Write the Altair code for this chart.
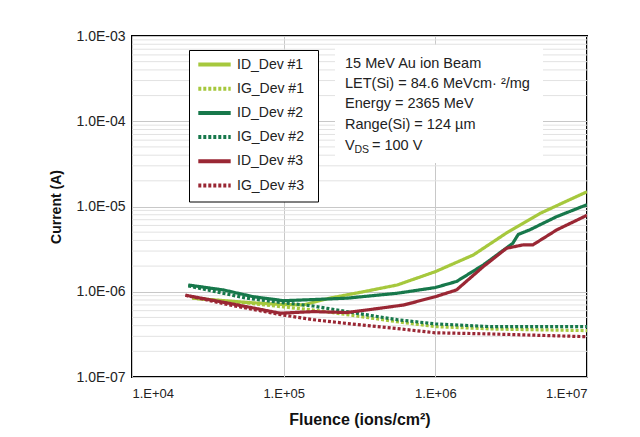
import altair as alt
import pandas as pd

# ---- data ----
series_names = ["ID_Dev #1", "IG_Dev #1", "ID_Dev #2", "IG_Dev #2", "ID_Dev #3", "IG_Dev #3"]
series_colors = ["#a6c83d", "#a6c83d", "#17784b", "#17784b", "#9a2734", "#9a2734"]
series_dashes = [[1, 0], [3, 2], [1, 0], [3, 2], [1, 0], [3, 2]]

id1_fluence = [2.5e4, 5.7e4, 9.5e4, 1.35e5, 2.0e5, 3.35e5, 5.6e5, 1.0e6, 1.78e6, 2.95e6, 4.9e6, 1.0e7]
id1_current = [8.4e-7, 7.5e-7, 7.1e-7, 7.0e-7, 8.4e-7, 1.0e-6, 1.2e-6, 1.72e-6, 2.7e-6, 4.9e-6, 8.3e-6, 1.49e-5]

ig1_fluence = [2.5e4, 5.7e4, 9.5e4, 1.57e5, 2.6e5, 5.6e5, 1.0e6, 2.5e6, 1.0e7]
ig1_current = [8.4e-7, 7.4e-7, 6.7e-7, 6.1e-7, 5.4e-7, 4.45e-7, 3.9e-7, 3.65e-7, 3.5e-7]

id2_fluence = [2.35e4, 4.0e4, 6.3e4, 1.0e5, 1.57e5, 2.6e5, 5.6e5, 1.0e6, 1.38e6, 2.07e6, 3.24e6, 3.52e6, 4.17e6, 6.3e6, 1.0e7]
id2_current = [1.2e-6, 1.05e-6, 8.75e-7, 7.85e-7, 8.1e-7, 8.4e-7, 9.6e-7, 1.12e-6, 1.32e-6, 2.06e-6, 3.7e-6, 4.7e-6, 5.3e-6, 7.6e-6, 1.05e-5]

ig2_fluence = [2.35e4, 5.7e4, 9.5e4, 1.57e5, 2.6e5, 5.6e5, 1.0e6, 2.3e6, 1.0e7]
ig2_current = [1.17e-6, 8.4e-7, 7.5e-7, 6.8e-7, 5.85e-7, 4.7e-7, 4.2e-7, 3.9e-7, 3.9e-7]

id3_fluence = [2.25e4, 4.4e4, 9.5e4, 1.57e5, 2.6e5, 4.3e5, 6.2e5, 1.0e6, 1.38e6, 2.07e6, 2.95e6, 3.8e6, 4.4e6, 6.3e6, 1.0e7]
id3_current = [9.1e-7, 7.3e-7, 5.6e-7, 5.85e-7, 5.7e-7, 6.4e-7, 7.0e-7, 8.75e-7, 1.05e-6, 1.97e-6, 3.24e-6, 3.55e-6, 3.55e-6, 5.3e-6, 7.9e-6]

ig3_fluence = [2.25e4, 4.4e4, 9.5e4, 1.57e5, 2.6e5, 5.6e5, 1.0e6, 2.3e6, 1.0e7]
ig3_current = [9.1e-7, 7.0e-7, 5.4e-7, 4.7e-7, 4.25e-7, 3.7e-7, 3.3e-7, 3.2e-7, 2.97e-7]

x_ticks = [1e4, 1e5, 1e6, 1e7]
y_ticks = [1e-7, 1e-6, 1e-5, 1e-4, 1e-3]
y_minor = [k * 10.0 ** e for e in range(-7, -3) for k in range(2, 10)]

annotation_lines = [
    "15 MeV Au ion Beam",
    "LET(Si) = 84.6 MeVcm· ²/mg",
    "Energy = 2365 MeV",
    "Range(Si) = 124 µm",
]
vds_parts = ["V", "DS", "= 100 V"]

# ---- build table ----
all_series = [
    (series_names[0], id1_fluence, id1_current),
    (series_names[1], ig1_fluence, ig1_current),
    (series_names[2], id2_fluence, id2_current),
    (series_names[3], ig2_fluence, ig2_current),
    (series_names[4], id3_fluence, id3_current),
    (series_names[5], ig3_fluence, ig3_current),
]
rows = []
for name, xs, ys in all_series:
    for xv, yv in zip(xs, ys):
        rows.append({"series": name, "fluence": xv, "current": yv})
df = pd.DataFrame(rows)

FONT = "Liberation Sans"
xscale = alt.Scale(type="log", domain=[1e4, 1e7])
yscale = alt.Scale(type="log", domain=[1e-7, 1e-3])

legend = alt.Legend(orient="none", legendX=64, legendY=20.5)

minor_grid = alt.Chart(pd.DataFrame({"v": y_minor})).mark_rule(
    color="#e2e2e2", strokeWidth=1
).encode(y=alt.Y("v:Q", scale=yscale))

one = pd.DataFrame({"a": [0]})

ann_box = alt.Chart(one).mark_rect(color="white").encode(
    x=alt.value(203), x2=alt.value(411), y=alt.value(9), y2=alt.value(127)
)

legend_box = alt.Chart(one).mark_rect(fill="white", stroke="black", strokeWidth=1).encode(
    x=alt.value(57.5), x2=alt.value(186.5), y=alt.value(14.5), y2=alt.value(166)
)

lines = alt.Chart(df).mark_line(strokeWidth=3.2, clip=True).encode(
    x=alt.X(
        "fluence:Q",
        scale=xscale,
        axis=alt.Axis(
            values=x_ticks,
            labelExpr="'1.E+0' + round(log(datum.value)/LN10)",
            title="Fluence (ions/cm²)",
            grid=True,
            gridColor="#c8c8c8",
            labelPadding=10,
            labelFontSize=13,
            titleFontSize=16,
            titlePadding=11,
        ),
    ),
    y=alt.Y(
        "current:Q",
        scale=yscale,
        axis=alt.Axis(
            values=y_ticks,
            labelExpr="'1.0E-0' + round(-log(datum.value)/LN10)",
            title="Current (A)",
            grid=True,
            gridColor="#c8c8c8",
            labelPadding=7,
            labelFontSize=14,
            titleFontSize=14,
            titlePadding=12,
        ),
    ),
    color=alt.Color("series:N", scale=alt.Scale(domain=series_names, range=series_colors), legend=legend, title=None),
    strokeDash=alt.StrokeDash("series:N", scale=alt.Scale(domain=series_names, range=series_dashes), legend=legend, title=None),
)

text_layers = []
baselines = [32, 52, 72, 93]
for txt, yb in zip(annotation_lines, baselines):
    text_layers.append(
        alt.Chart(one).mark_text(
            align="left", baseline="alphabetic", font=FONT, fontSize=14.5, color="#222222"
        ).encode(x=alt.value(213), y=alt.value(yb), text=alt.value(txt))
    )
vds_x = [213, 222.5, 240]
vds_y = [114, 117, 114]
vds_size = [14.5, 10.5, 14.5]
for txt, xv, yv, fs in zip(vds_parts, vds_x, vds_y, vds_size):
    text_layers.append(
        alt.Chart(one).mark_text(
            align="left", baseline="alphabetic", font=FONT, fontSize=fs, color="#222222"
        ).encode(x=alt.value(xv), y=alt.value(yv), text=alt.value(txt))
    )

chart = alt.layer(minor_grid, ann_box, legend_box, lines, *text_layers).properties(
    width=455,
    height=341,
    autosize=alt.AutoSizeParams(type="none"),
    padding={"left": 124, "top": 28, "right": 45, "bottom": 55},
).configure_view(
    stroke="black", strokeWidth=2
).configure_axis(
    labelFont=FONT, labelColor="#222222",
    titleFont=FONT, titleFontWeight="bold", titleColor="#111111",
    ticks=False, domain=False,
).configure_legend(
    labelFont=FONT, labelFontSize=14, labelColor="#222222",
    symbolType="stroke", symbolStrokeWidth=4, symbolSize=1050,
    padding=0, rowPadding=8.2, clipHeight=16, labelOffset=4,
)

chart.save("out.html", embed_options={"renderer": "svg", "actions": False})
